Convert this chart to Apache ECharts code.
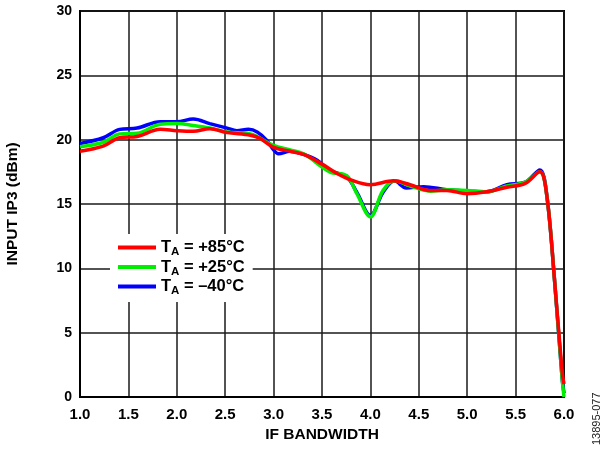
<!DOCTYPE html>
<html><head><meta charset="utf-8">
<script src="https://cdn.jsdelivr.net/npm/echarts@6/dist/echarts.min.js"></script>
<style>html,body{margin:0;padding:0;background:#fff}#c{width:602px;height:449px}</style>
</head><body><div id="c"></div>
<script>
const xTicks = ['1.0','1.5','2.0','2.5','3.0','3.5','4.0','4.5','5.0','5.5','6.0'];
const yTicks = ['0','5','10','15','20','25','30'];
const seriesNames = ['+85°C', '+25°C', '–40°C'];

const redX = [1.0,1.24,1.41,1.59,1.83,2.0,2.17,2.34,2.52,2.76,2.86,3.0,3.17,3.31,3.5,3.65,3.79,4.0,4.24,4.41,4.62,4.79,5.0,5.2,5.41,5.6,5.75,5.82,5.9,5.98,6.0];
const redY = [19.1,19.5,20.15,20.25,20.8,20.7,20.65,20.85,20.55,20.35,20.1,19.4,19.1,18.85,18.1,17.4,16.9,16.5,16.8,16.5,16.05,16.05,15.8,15.95,16.3,16.6,17.5,15.8,9.3,2.0,1.0];

const greenX = [1.0,1.24,1.41,1.59,1.83,2.0,2.17,2.34,2.52,2.76,2.84,3.0,3.17,3.31,3.58,3.755,3.86,4.0,4.13,4.25,4.41,4.62,4.79,5.0,5.2,5.41,5.6,5.75,5.82,5.9,5.98,6.0];
const greenY = [19.45,19.8,20.45,20.5,21.2,21.25,21.1,20.9,20.6,20.45,20.2,19.55,19.2,18.9,17.5,17.2,15.8,14.0,16.05,16.8,16.4,16.0,16.1,16.05,15.95,16.4,16.7,17.5,15.8,9.3,1.5,0];

const blueX = [1.0,1.24,1.41,1.59,1.83,2.0,2.17,2.34,2.52,2.62,2.74,2.83,2.93,3.0,3.05,3.17,3.31,3.45,3.58,3.755,3.86,4.0,4.13,4.25,4.37,4.55,4.79,5.0,5.2,5.41,5.6,5.75,5.82,5.9,5.98,6.0];
const blueY = [19.7,20.15,20.8,20.9,21.4,21.4,21.6,21.25,20.9,20.7,20.8,20.6,19.95,19.2,18.9,19.1,18.85,18.4,17.6,17.1,15.9,14.1,15.9,16.8,16.25,16.35,16.1,16.0,15.95,16.5,16.7,17.65,15.8,9.3,1.5,0.3];

function pairs(xs, ys){ return xs.map((x,i)=>[x, ys[i]]); }

const chart = echarts.init(document.getElementById('c'), null, {renderer:'canvas'});
const FONT = 'Liberation Sans, Arial, sans-serif';
const splitStyle = {show:true, lineStyle:{color:'#1a1a1a', width:1.5}};
function mk(name, color, xs, ys){
  return {name:name, type:'line', data:pairs(xs,ys), smooth:0.35, showSymbol:false, symbol:'none',
    lineStyle:{color:color, width:3.5}, itemStyle:{color:color}};
}
chart.setOption({
  animation:false,
  backgroundColor:'#fff',
  grid:{left:80, right:38, top:11, bottom:52, containLabel:false, outerBoundsMode:'none',
    show:true, borderColor:'#000', borderWidth:2, backgroundColor:'transparent'},
  xAxis:{type:'value', min:1, max:6, interval:0.5,
    name:'IF BANDWIDTH', nameLocation:'middle', nameGap:30,
    nameTextStyle:{fontFamily:FONT, fontWeight:'bold', fontSize:15.5, color:'#000'},
    axisLine:{show:true, lineStyle:{color:'#000', width:2}}, axisTick:{show:false},
    axisLabel:{fontFamily:FONT, fontWeight:'bold', fontSize:15, color:'#000', margin:10,
      formatter:(v)=>xTicks[Math.round((v-1)/0.5)]},
    splitLine:splitStyle},
  yAxis:{type:'value', min:0, max:30, interval:5,
    name:'INPUT IP3 (dBm)', nameLocation:'middle', nameGap:59, nameRotate:90,
    nameTextStyle:{fontFamily:FONT, fontWeight:'bold', fontSize:15.5, color:'#000'},
    axisLine:{show:true, lineStyle:{color:'#000', width:2}}, axisTick:{show:false},
    axisLabel:{fontFamily:FONT, fontWeight:'bold', fontSize:14, color:'#000', margin:8,
      formatter:(v)=>yTicks[Math.round(v/5)]},
    splitLine:splitStyle},
  legend:{orient:'vertical', left:110, top:234, backgroundColor:'#fff', padding:[5,8,5,8],
    itemWidth:38, itemHeight:4, itemGap:0.5, icon:'rect',
    data:['T_A = ' + seriesNames[0], 'T_A = ' + seriesNames[1], 'T_A = ' + seriesNames[2]],
    formatter:(n)=>'{b|T}{s|A}{b|' + n.slice(3) + '}',
    textStyle:{fontFamily:FONT, rich:{
      b:{fontFamily:FONT, fontWeight:'bold', fontSize:16.5, color:'#000', lineHeight:21},
      s:{fontFamily:FONT, fontWeight:'bold', fontSize:11.5, color:'#000', verticalAlign:'bottom', lineHeight:21, padding:[7,0,0,0]}
    }}},
  graphic:[{type:'text', x:597, y:445, rotation:Math.PI/2,
    style:{text:'13895-077', font:'11px ' + FONT, fill:'#222', x:0, y:0, textAlign:'left', textVerticalAlign:'middle'}}],
  series:[
    mk('T_A = ' + seriesNames[2], '#0000ff', blueX, blueY),
    mk('T_A = ' + seriesNames[1], '#00ee00', greenX, greenY),
    mk('T_A = ' + seriesNames[0], '#ff0000', redX, redY)
  ]
});
</script></body></html>
